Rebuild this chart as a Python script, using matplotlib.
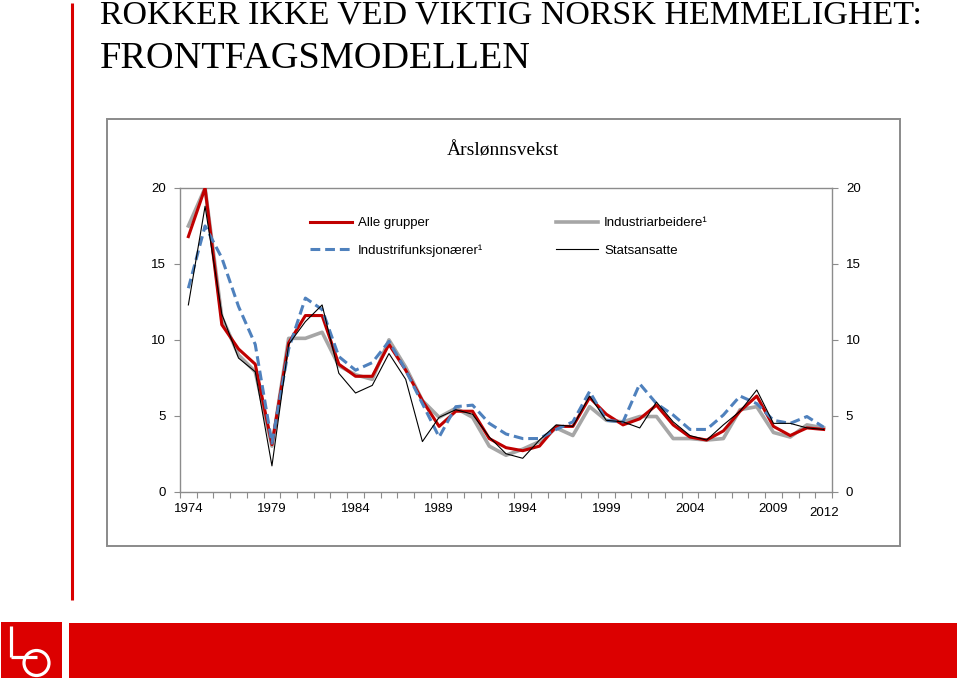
import matplotlib
matplotlib.use("Agg")
import matplotlib.pyplot as plt
from matplotlib.patches import Rectangle, Circle

years = list(range(1974, 2013))
alle_grupper = [16.8, 20.0, 11.0, 9.4, 8.4, 3.1, 9.8, 11.6, 11.6, 8.4,
                7.6, 7.6, 9.7, 8.0, 6.0, 4.3, 5.3, 5.3, 3.5, 2.9,
                2.7, 3.0, 4.3, 4.3, 6.2, 5.1, 4.4, 4.8, 5.7, 4.4,
                3.6, 3.4, 4.0, 5.3, 6.3, 4.3, 3.7, 4.2, 4.1]
industriarbeidere = [17.5, 20.0, 11.5, 9.0, 7.9, 3.0, 10.1, 10.1, 10.5, 8.3,
                     7.7, 7.4, 10.0, 8.2, 6.0, 4.9, 5.5, 4.9, 3.0, 2.4,
                     2.8, 3.3, 4.2, 3.7, 5.6, 4.7, 4.6, 4.95, 4.95, 3.5,
                     3.5, 3.4, 3.5, 5.4, 5.6, 3.9, 3.6, 4.4, 4.2]
industrifunksjonaerer = [13.4, 17.5, 15.4, 12.2, 9.7, 3.2, 9.4, 12.75, 12.0, 8.9,
                         8.0, 8.5, 9.9, 8.0, 5.8, 3.6, 5.6, 5.7, 4.5, 3.8,
                         3.5, 3.5, 4.1, 4.6, 6.6, 4.7, 4.6, 7.1, 5.8, 5.05,
                         4.1, 4.1, 5.05, 6.3, 5.8, 4.7, 4.5, 4.95, 4.25]
statsansatte = [12.3, 18.8, 11.7, 8.8, 7.9, 1.7, 9.7, 11.2, 12.3, 7.8,
                6.5, 7.0, 9.1, 7.4, 3.3, 4.9, 5.4, 5.1, 3.6, 2.5,
                2.2, 3.4, 4.4, 4.3, 6.3, 4.7, 4.6, 4.2, 5.9, 4.6,
                3.7, 3.4, 4.4, 5.3, 6.7, 4.5, 4.5, 4.2, 4.1]
series_names = ["Alle grupper", "Industriarbeidere\u00b9",
                "Industrifunksjon\u00e6rer\u00b9", "Statsansatte"]
tick_years = [1974, 1979, 1984, 1989, 1994, 1999, 2004, 2009, 2012]
y_ticks = [0, 5, 10, 15, 20]
chart_title = "\u00c5rsl\u00f8nnsvekst"
slide_title = ["ROKKER IKKE VED VIKTIG NORSK HEMMELIGHET:", "FRONTFAGSMODELLEN"]

W, H = 960, 680
fig = plt.figure(figsize=(W / 100, H / 100), dpi=100)
fig.patch.set_facecolor("white")

# overlay in pixel coordinates for slide decorations
ov = fig.add_axes([0, 0, 1, 1], zorder=0)
ov.set_xlim(0, W)
ov.set_ylim(H, 0)
ov.axis("off")

RED = "#D90000"
ov.plot([72, 72], [3, 600], color=RED, lw=2.2, solid_capstyle="butt")
ov.add_patch(Rectangle((69, 623), 888, 55, color="#DC0000", lw=0))
ov.add_patch(Rectangle((1, 622), 61, 56, color="#DC0000", lw=0))
# logo (white L + O)
ov.plot([10.5, 10.5], [626, 657], color="white", lw=2.3, solid_capstyle="butt")
ov.plot([10.5, 37], [657, 657], color="white", lw=2.3, solid_capstyle="butt")
ov.add_patch(Circle((36.5, 663), 12.5, fill=False, ec="white", lw=2.3))

# chart frame
ov.add_patch(Rectangle((107, 119), 793, 427, fill=False, ec="#8a8a8a", lw=1.4))

serif = ["Liberation Serif", "DejaVu Serif"]
sans = ["Liberation Sans", "DejaVu Sans"]
ov.text(100, 23, slide_title[0], family=serif, fontsize=24.5, va="baseline", ha="left")
ov.text(100, 68, slide_title[1], family=serif, fontsize=27.5, va="baseline", ha="left")
ov.text(503, 151, chart_title, family=serif, fontsize=14, va="center", ha="center")

# plot area
left, right, top, bottom = 180, 832, 188, 491.7
ax = fig.add_axes([left / W, 1 - bottom / H, (right - left) / W, (bottom - top) / H], zorder=1)
ax.set_facecolor("none")
x = list(range(len(years)))

l_gray, = ax.plot(x, industriarbeidere, color="#A6A6A6", lw=2.6, zorder=2,
                  solid_joinstyle="round")
l_red, = ax.plot(x, alle_grupper, color="#C00000", lw=2.2, zorder=3,
                 solid_joinstyle="round")
l_blue, = ax.plot(x, industrifunksjonaerer, color="#4F81BD", lw=2.2, zorder=4,
                  dashes=(3.2, 1.6))
l_black, = ax.plot(x, statsansatte, color="black", lw=0.8, zorder=5)

ax.set_xlim(-0.5, len(years) - 0.5)
ax.set_ylim(0, 20)

for s in ["left", "right", "top", "bottom"]:
    ax.spines[s].set_color("#8c8c8c")
    ax.spines[s].set_linewidth(1.0)

ax.set_yticks(y_ticks)
ax.set_yticklabels([str(v) for v in y_ticks])
ax.tick_params(axis="y", which="major", direction="out", length=4, width=0.8,
               color="#8c8c8c", left=True, right=True, labelleft=True,
               labelright=True, labelsize=9.5, pad=6,
               labelfontfamily="Liberation Sans")

ax.set_xticks([years.index(y) for y in tick_years])
ax.set_xticklabels([str(y) for y in tick_years])
ax.set_xticks([i - 0.5 for i in range(len(years) + 1)], minor=True)
ax.tick_params(axis="x", which="major", length=0, labelsize=9.5, pad=8,
               labelfontfamily="Liberation Sans")
ax.tick_params(axis="x", which="minor", direction="out", length=4, width=0.8,
               color="#8c8c8c")
ax.xaxis.get_major_ticks()[-1].set_pad(11)

# legends (two columns placed separately)
leg_kw = dict(frameon=False, handlelength=3.2, handletextpad=0.45,
              labelspacing=1.15, borderpad=0, borderaxespad=0,
              prop={"family": "Liberation Sans", "size": 9.5},
              bbox_transform=fig.transFigure, loc="center left")
leg1 = ax.legend([l_red, l_blue], [series_names[0], series_names[2]],
                 bbox_to_anchor=(310 / W, 1 - 237 / H), **leg_kw)
ax.add_artist(leg1)
leg2 = ax.legend([l_gray, l_black], [series_names[1], series_names[3]],
                 bbox_to_anchor=(556 / W, 1 - 237 / H), **leg_kw)

fig.savefig("out.png", dpi=100, facecolor="white")
